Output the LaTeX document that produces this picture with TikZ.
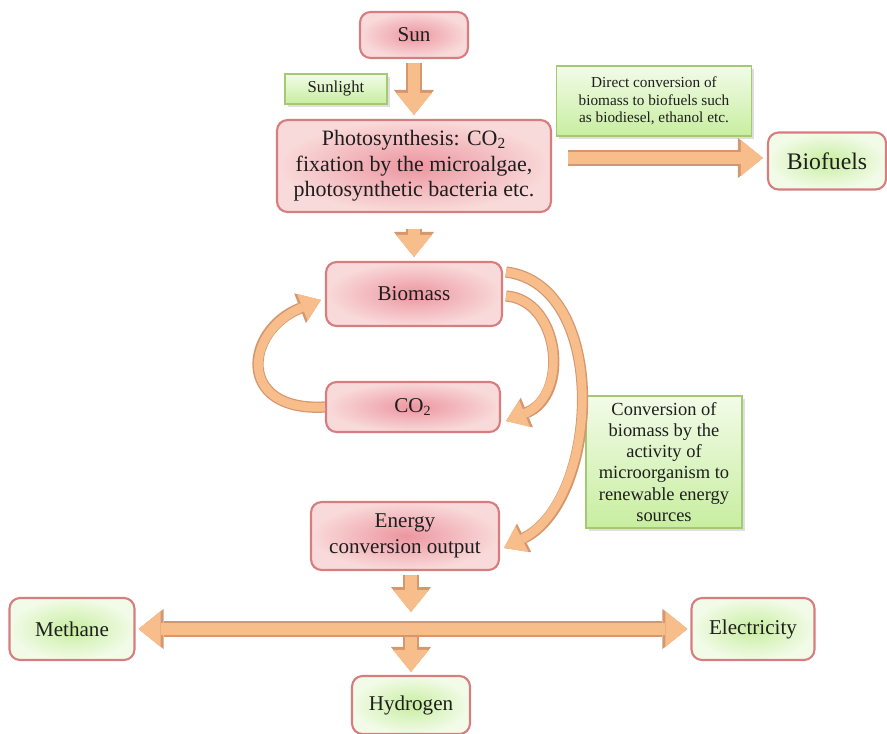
\documentclass[tikz,border=0pt]{standalone}
\usepackage{fontspec}
\setmainfont{Liberation Serif}
\usetikzlibrary{arrows.meta,calc,shadows}

\definecolor{arrowfill}{RGB}{247,190,140}
\definecolor{arrowedge}{RGB}{214,150,110}
\definecolor{redin}{RGB}{236,150,160}
\definecolor{redout}{RGB}{249,218,218}
\definecolor{rededge}{RGB}{214,125,128}
\definecolor{greenin}{RGB}{200,238,160}
\definecolor{greenout}{RGB}{242,251,232}
\definecolor{greenedge}{RGB}{165,200,115}
\definecolor{textcol}{RGB}{30,30,30}

\tikzset{
  stagebox/.style={draw=rededge, line width=1.2pt, rounded corners=6pt,
    inner color=redin, outer color=redout, align=center, text=textcol,
    font=\fontsize{12}{14.5}\selectfont},
  productbox/.style={stagebox, inner color=greenin, outer color=greenout},
  notebox/.style={draw=greenedge, line width=0.8pt, top color=greenout,
    bottom color=greenin, align=center, text=textcol,
    drop shadow={opacity=0.25, shadow xshift=1.5pt, shadow yshift=-1.5pt}},
  blockarrow/.style={draw=arrowfill, line width=7pt,
    -{Triangle[width=0.72cm,length=0.44cm,line width=0pt]},
    preaction={draw=arrowedge, line width=8.6pt,
      -{Triangle[width=0.80cm,length=0.50cm,line width=0pt]}}},
  blockboth/.style={draw=arrowfill, line width=7pt,
    {Triangle[width=0.72cm,length=0.44cm,line width=0pt]}-{Triangle[width=0.72cm,length=0.44cm,line width=0pt]},
    preaction={draw=arrowedge, line width=8.6pt,
      {Triangle[width=0.80cm,length=0.50cm,line width=0pt]}-{Triangle[width=0.80cm,length=0.50cm,line width=0pt]}}},
  curvearrow/.style={draw=arrowfill, line width=5pt,
    -{Triangle[width=0.58cm,length=0.40cm,line width=0pt]},
    preaction={draw=arrowedge, line width=6.4pt,
      -{Triangle[width=0.64cm,length=0.45cm,line width=0pt]}}}
}

\begin{document}
\begin{tikzpicture}[x=0.02cm,y=-0.02cm]
    \useasboundingbox (0,0) rectangle (887,734);

    % stages
    \node[stagebox, minimum width=2.16cm, minimum height=0.92cm] (sun) at (414,35) {Sun};
    \node[notebox, minimum width=2.04cm, minimum height=0.6cm,
      font=\fontsize{9.5}{11}\selectfont] (sunlight) at (336,89) {Sunlight};
    \node[stagebox, minimum width=5.48cm, minimum height=1.84cm,
      font=\fontsize{12.5}{14.5}\selectfont] (photo) at (414,166)
      {Photosynthesis: CO\textsubscript{2}\\fixation by the microalgae,\\photosynthetic bacteria etc.};
    \node[notebox, minimum width=3.9cm, minimum height=1.4cm,
      font=\fontsize{8.7}{10}\selectfont] (direct) at (654,101)
      {Direct conversion of\\biomass to biofuels such\\as biodiesel, ethanol etc.};
    \node[productbox, minimum width=2.36cm, minimum height=1.14cm,
      font=\fontsize{13.5}{15}\selectfont] (biofuels) at (827,161) {Biofuels};
    \node[stagebox, minimum width=3.52cm, minimum height=1.28cm] (biomass) at (414,294) {Biomass};
    \node[stagebox, minimum width=3.48cm, minimum height=1.0cm] (co2) at (413,407) {CO\textsubscript{2}};
    \node[notebox, minimum width=3.12cm, minimum height=2.64cm,
      font=\fontsize{10.5}{12}\selectfont] (microbe) at (664,462)
      {Conversion of\\biomass by the\\activity of\\microorganism to\\renewable energy\\sources};
    \node[stagebox, minimum width=3.76cm, minimum height=1.36cm] (energy) at (405,536)
      {Energy\\conversion output};

    % products
    \node[productbox, minimum width=2.5cm, minimum height=1.24cm] (methane) at (72,629) {Methane};
    \node[productbox, minimum width=2.46cm, minimum height=1.24cm] (electricity) at (753,629) {Electricity};
    \node[productbox, minimum width=2.36cm, minimum height=1.16cm] (hydrogen) at (411,705) {Hydrogen};
    \coordinate (hub) at (411,629);

    % straight arrows
    \draw[blockarrow] ($(sun.south)+(0,4)$) -- ($(photo.north)+(0,-4)$);
    \draw[blockarrow] ($(photo.south)+(0,16)$) -- ($(biomass.north)+(0,-4)$);
    \draw[blockarrow] ($(photo.east)+(16,-8)$) -- ($(biofuels.west)+(-4,-3)$);
    \draw[blockarrow] ($(energy.south)+(6,4)$) -- ($(hub)+(0,-17)$);
    \draw[blockarrow] ($(hub)+(0,7)$) -- ($(hydrogen.north)+(0,-3)$);
    \draw[blockboth] ($(methane.east)+(3,0)$) -- ($(electricity.west)+(-3,0)$);

    % curved arrows
    \draw[curvearrow] (co2.west) .. controls (235,412) and (245,330) .. ($(biomass.west)+(-4,6)$);
    \draw[curvearrow] ($(biomass.east)+(3,2)$) .. controls (560,300) and (570,395) .. ($(co2.east)+(5,14)$);
    \draw[curvearrow] ($(biomass.east)+(3,-22)$) .. controls (610,285) and (600,500) .. ($(energy.east)+(4,12)$);
\end{tikzpicture}
\end{document}
